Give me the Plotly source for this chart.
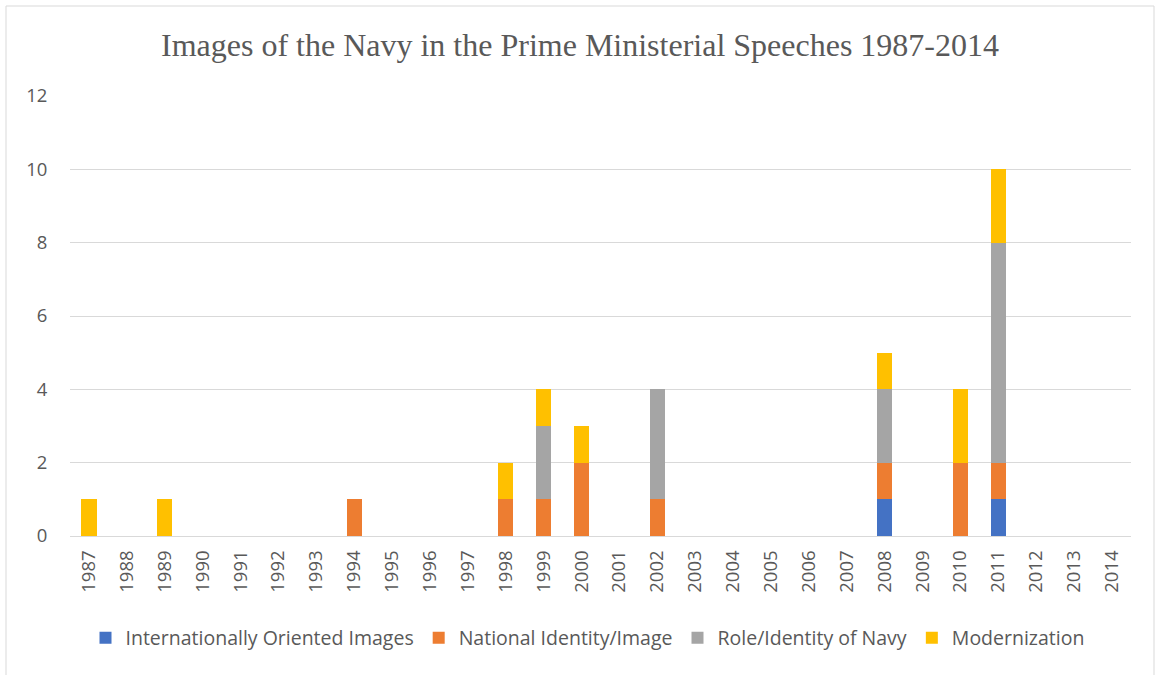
import plotly.graph_objects as go

years = [str(y) for y in range(1987, 2015)]

# counts per year, in stacking order from bottom to top
international = [0, 0, 0, 0, 0, 0, 0, 0, 0, 0, 0, 0, 0, 0, 0, 0, 0, 0, 0, 0, 0, 1, 0, 0, 1, 0, 0, 0]
national      = [0, 0, 0, 0, 0, 0, 0, 1, 0, 0, 0, 1, 1, 2, 0, 1, 0, 0, 0, 0, 0, 1, 0, 2, 1, 0, 0, 0]
role_navy     = [0, 0, 0, 0, 0, 0, 0, 0, 0, 0, 0, 0, 2, 0, 0, 3, 0, 0, 0, 0, 0, 2, 0, 0, 6, 0, 0, 0]
modernization = [1, 0, 1, 0, 0, 0, 0, 0, 0, 0, 0, 1, 1, 1, 0, 0, 0, 0, 0, 0, 0, 1, 0, 2, 2, 0, 0, 0]

series = [
    ("Internationally Oriented Images", international, "#4472C4"),
    ("National Identity/Image", national, "#ED7D31"),
    ("Role/Identity of Navy", role_navy, "#A5A5A5"),
    ("Modernization", modernization, "#FFC000"),
]

fig = go.Figure()
for name, vals, color in series:
    fig.add_trace(go.Bar(
        x=years, y=vals, name=name,
        marker=dict(color=color, line=dict(width=0)),
    ))

text_font = "Open Sans, Noto Sans, sans-serif"

fig.update_layout(
    barmode="stack",
    bargap=0.6,
    width=1160, height=675,
    margin=dict(l=70, r=29, t=96, b=139),
    paper_bgcolor="white",
    plot_bgcolor="white",
    title=dict(
        text="Images of the Navy in the Prime Ministerial Speeches 1987-2014",
        x=0.5, xanchor="center", xref="container",
        y=1 - 45 / 675, yanchor="middle", yref="container",
        font=dict(family="Liberation Serif, Times New Roman, serif", size=32, color="#595959"),
    ),
    xaxis=dict(
        type="category",
        tickangle=-90,
        tickfont=dict(family=text_font, size=18.5, color="#595959"),
        ticks="outside", ticklen=6, tickcolor="rgba(0,0,0,0)",
        showgrid=False, showline=False, zeroline=False,
    ),
    yaxis=dict(
        range=[0, 12], dtick=2,
        tickfont=dict(family=text_font, size=18.5, color="#595959"),
        ticks="outside", ticklen=18, tickcolor="rgba(0,0,0,0)",
        showgrid=True, gridcolor="#D9D9D9", gridwidth=1,
        zeroline=True, zerolinecolor="#D9D9D9", zerolinewidth=1,
        showline=False,
    ),
    legend=dict(
        orientation="h",
        x=(587.5 - 70) / 1061, xanchor="center",
        y=(536 - 638) / 440, yanchor="middle",
        font=dict(family=text_font, size=19.5, color="#595959"),
        itemwidth=30,
        traceorder="normal",
    ),
    shapes=[dict(
        type="rect", xref="paper", yref="paper",
        x0=(6 - 70) / 1061, x1=(1154 - 70) / 1061,
        y0=(536 - 690) / 440, y1=(536 - 6) / 440,
        line=dict(color="#D9D9D9", width=1), fillcolor="rgba(0,0,0,0)",
        layer="below",
    )],
)

fig.write_html("out.html")
